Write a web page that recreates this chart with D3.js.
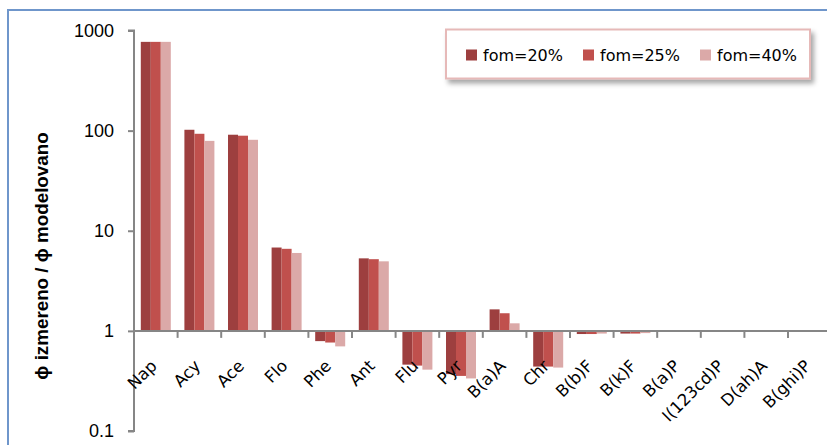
<!DOCTYPE html>
<html><head><meta charset="utf-8">
<script src="https://cdn.jsdelivr.net/npm/d3@7"></script>
<style>body{margin:0;background:#fff}svg{display:block}</style>
</head><body>
<svg id="c" width="827" height="445"></svg>
<script>
const categories = ["Nap","Acy","Ace","Flo","Phe","Ant","Flu","Pyr","B(a)A","Chr","B(b)F","B(k)F","B(a)P","I(123cd)P","D(ah)A","B(ghi)P"];
const seriesNames = ["fom=20%","fom=25%","fom=40%"];
const fom20 = [770, 102, 91, 6.8, 0.79, 5.3, 0.46, 0.37, 1.64, 0.44, 0.93, 0.94, null, null, null, null];
const fom25 = [770, 93, 89, 6.6, 0.765, 5.2, 0.45, 0.355, 1.5, 0.44, 0.93, 0.94, null, null, null, null];
const fom40 = [770, 79, 81, 6.0, 0.70, 4.95, 0.41, 0.335, 1.19, 0.43, 0.94, 0.95, null, null, null, null];
const yTicks = [0.1, 1, 10, 100, 1000];
const yTickLabels = ["0.1","1","10","100","1000"];
const yTitle = "\u03d5 izmereno / \u03d5 modelovano";
const colors = ["#9d3f3f","#c0504d","#dba9a8"];

const svg = d3.select("#c");
const series = [fom20, fom25, fom40];

// frame
svg.append("rect").attr("x",8).attr("y",10).attr("width",840).attr("height",460)
  .attr("fill","#fff").attr("stroke","#6f96cb").attr("stroke-width",2);

const x0 = 134, bw = 43.6;
const x = d3.scaleBand().domain(categories).range([x0, x0 + bw*categories.length]).padding(0);
const xs = d3.scaleBand().domain(d3.range(3)).range([0, 30]).padding(0);
const y = d3.scaleLog().domain([0.1, 1000]).range([431, 30.5]);

// bars
series.forEach((s, si) => {
  svg.append("g").selectAll("rect").data(categories.map((c,i)=>({c, v:s[i]})).filter(d=>d.v!=null))
    .join("rect")
    .attr("x", d => x(d.c) + (x.bandwidth()-30)/2 + xs(si))
    .attr("width", xs.bandwidth())
    .attr("y", d => Math.min(y(d.v), y(1)))
    .attr("height", d => Math.abs(y(d.v) - y(1)))
    .attr("fill", colors[si]);
});

// y axis
const yAxis = d3.axisLeft(y).tickValues(yTicks).tickFormat((d,i)=>yTickLabels[i]).tickSize(6).tickPadding(14);
const gy = svg.append("g").attr("transform",`translate(${x0},0)`).call(yAxis);
gy.select(".domain").attr("stroke","#868686").attr("stroke-width",2).attr("d",`M-6,${y(0.1)}H0V${y(1000)}H-6`);
gy.selectAll(".tick line").attr("stroke","#868686").attr("stroke-width",2);
gy.selectAll(".tick text").attr("font-family","Liberation Sans, Arial, sans-serif").attr("font-size",18).attr("fill","#000");

// x axis at 1
const xAxis = d3.axisBottom(x).tickSize(0).tickFormat("");
const gx = svg.append("g").attr("transform",`translate(0,${y(1)})`).call(xAxis);
gx.select(".domain").attr("stroke","#868686").attr("stroke-width",2).attr("d",`M${x0},0H840`);
gx.selectAll(".bt").data(categories).join("line")
  .attr("x1", d => x(d) + x.bandwidth()).attr("x2", d => x(d) + x.bandwidth())
  .attr("y1", 0).attr("y2", 7).attr("stroke","#868686").attr("stroke-width",2);
gx.selectAll(".lbl").data(categories).join("text")
  .attr("transform", d => `translate(${x(d)+x.bandwidth()/2-2},${32}) rotate(-45)`)
  .attr("text-anchor","end").attr("dy","0.35em")
  .attr("font-family","DejaVu Sans, sans-serif").attr("font-size",16.5).attr("fill","#000")
  .text(d => d);

// y title
svg.append("text").attr("transform","translate(41,256) rotate(-90)")
  .attr("text-anchor","middle").attr("dy","0.35em")
  .attr("font-family","Liberation Sans, Arial, sans-serif").attr("font-weight","bold").attr("font-size",18.8)
  .text(yTitle);

// legend
const defs = svg.append("defs");
const f = defs.append("filter").attr("id","sh").attr("x","-10%").attr("y","-30%").attr("width","130%").attr("height","180%");
f.append("feDropShadow").attr("dx",3).attr("dy",4).attr("stdDeviation",2.5).attr("flood-color","#000").attr("flood-opacity",0.35);
svg.append("rect").attr("x",446).attr("y",29.5).attr("width",364).attr("height",49)
  .attr("fill","#fff").attr("stroke","#e6b9b8").attr("stroke-width",2).attr("filter","url(#sh)");
const lx = [466, 583, 700];
const lg = svg.append("g").selectAll("g").data(seriesNames).join("g")
  .attr("transform",(d,i)=>`translate(${lx[i]},0)`);
lg.append("rect").attr("x",0).attr("y",49.5).attr("width",11).attr("height",11).attr("fill",(d,i)=>colors[i]);
lg.append("text").attr("x",17).attr("y",61).attr("font-family","DejaVu Sans, sans-serif").attr("font-size",16)
  .attr("fill","#000").text(d=>d);
</script>
</body></html>
